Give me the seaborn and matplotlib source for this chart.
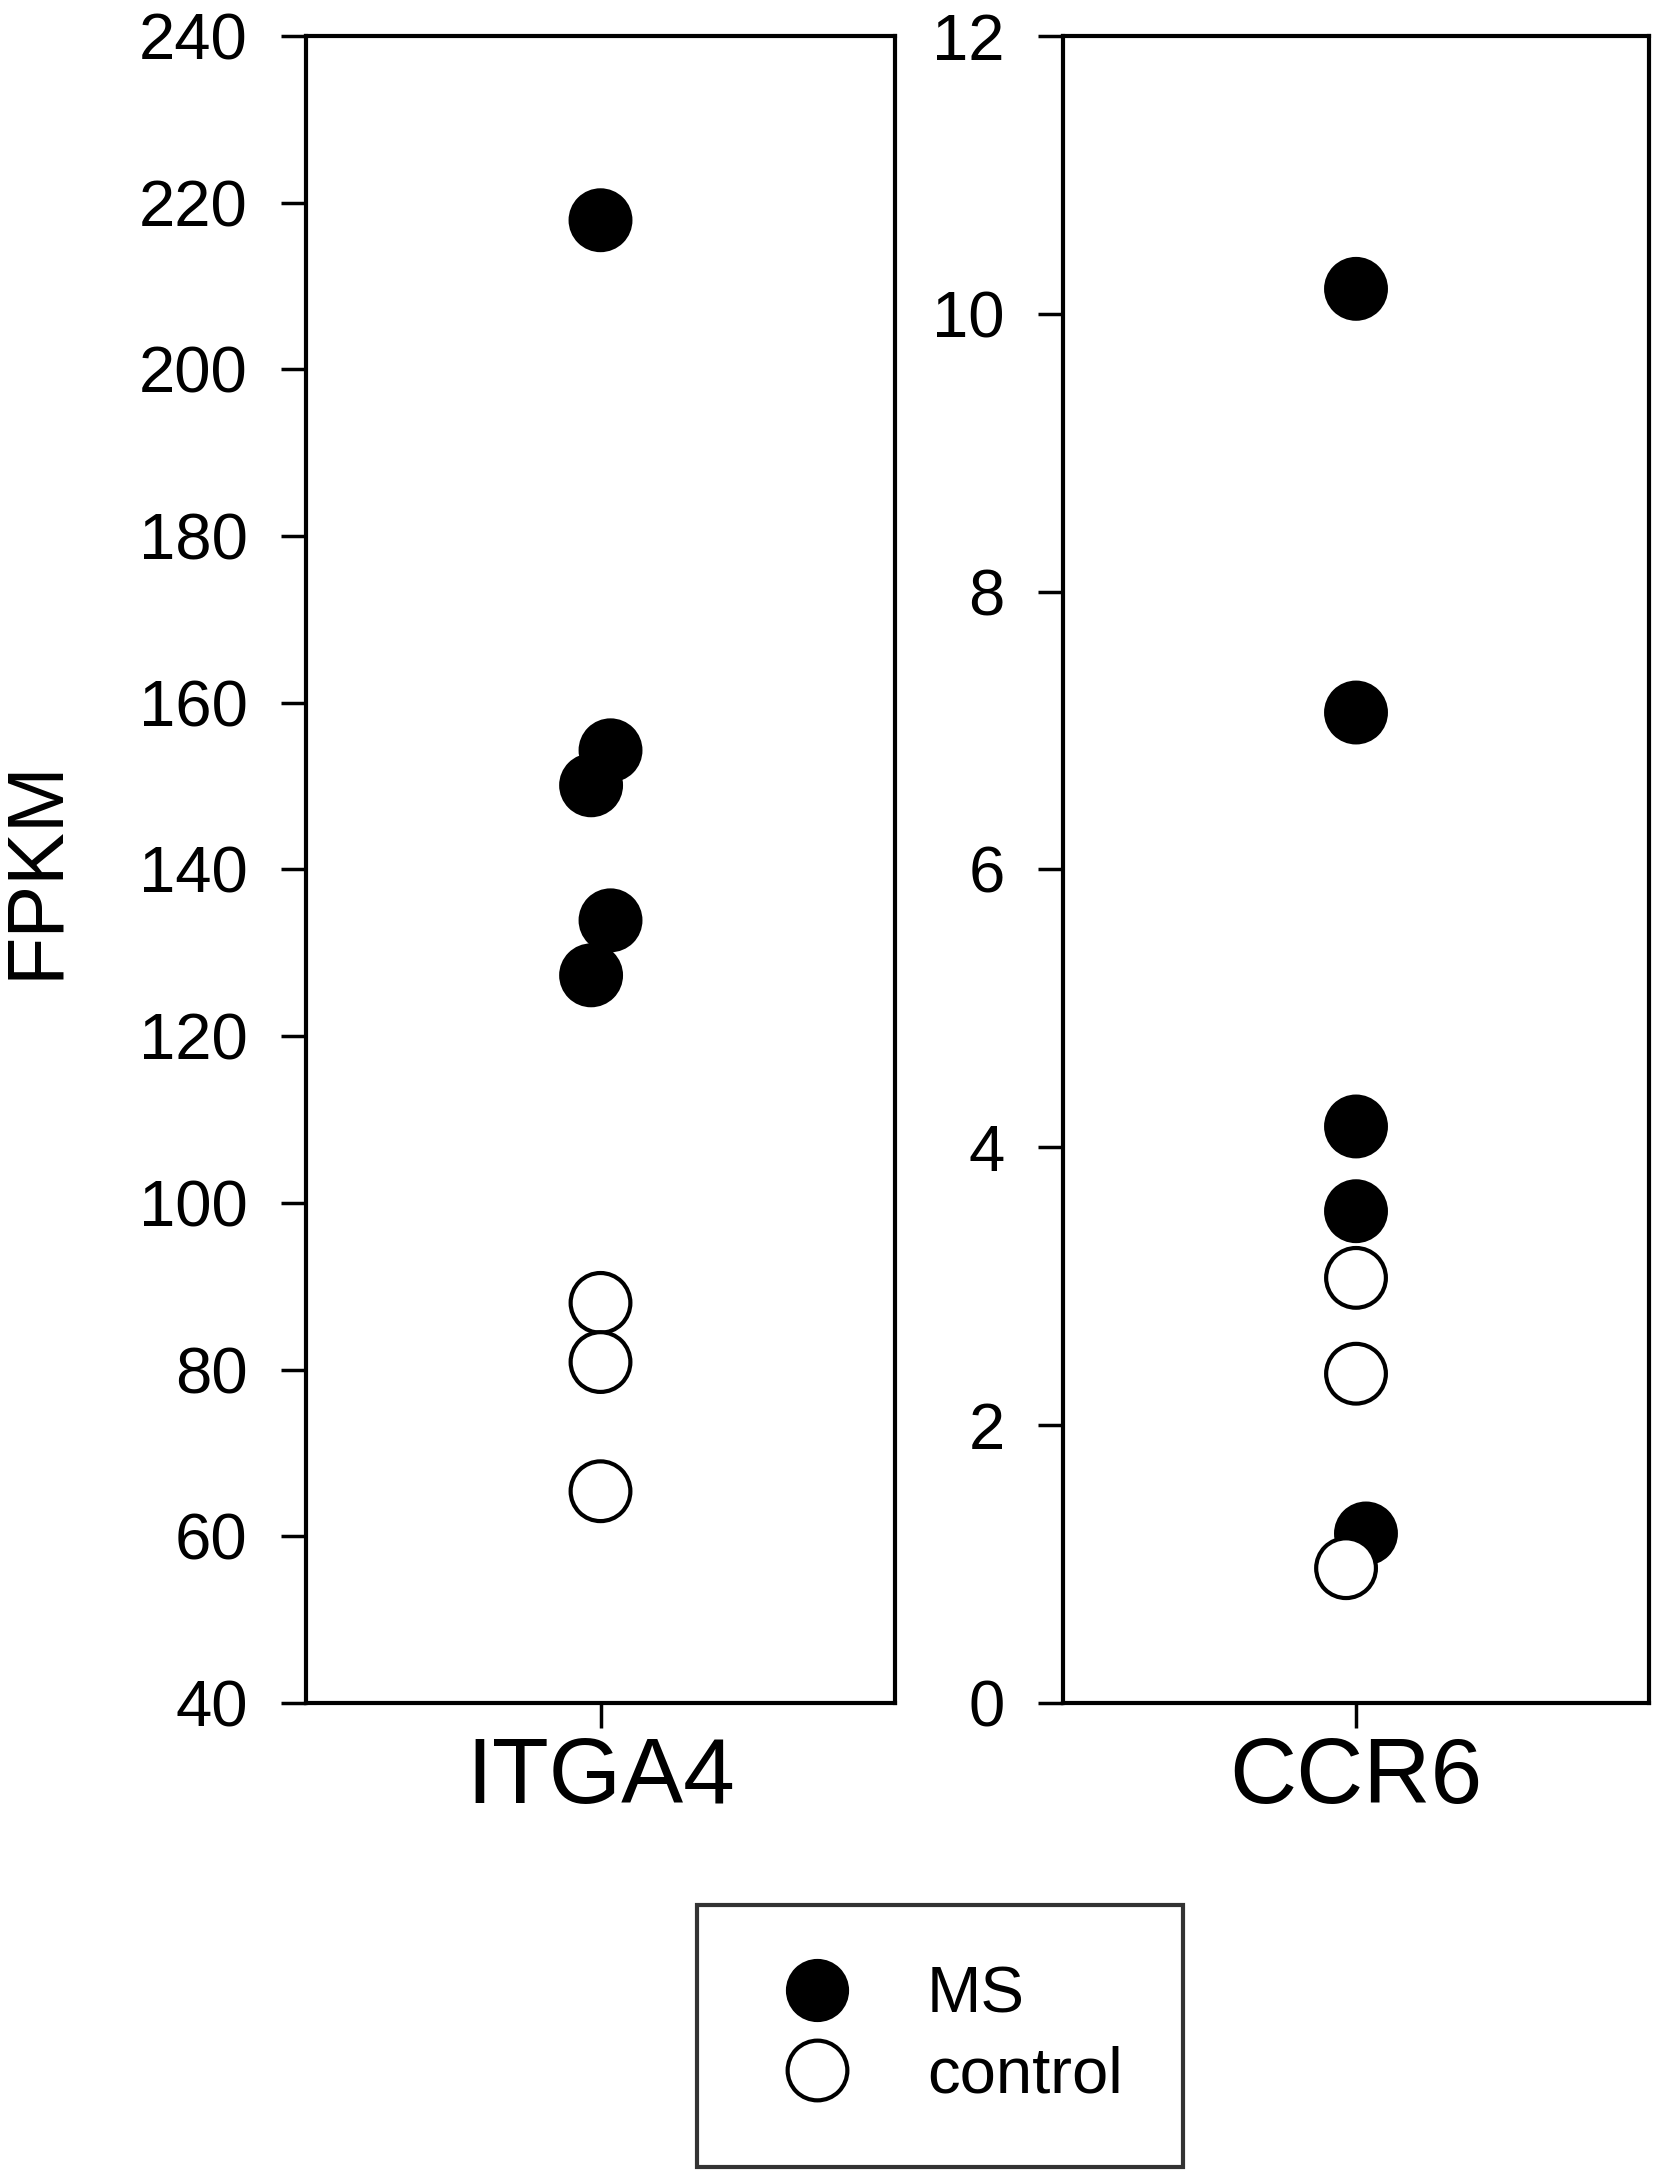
import matplotlib
matplotlib.use("Agg")
import matplotlib.pyplot as plt
from matplotlib.lines import Line2D
import seaborn as sns
import pandas as pd

# values (FPKM per sample)
genes = ["ITGA4", "CCR6"]
groups = ["MS", "control"]

itga4_ms = [217.9, 154.3, 150.1, 133.9, 127.3]
itga4_ms_jitter = [0.0, 0.017, -0.016, 0.017, -0.016]
itga4_control = [88.0, 80.9, 65.4]
itga4_control_jitter = [0.0, 0.0, 0.0]

ccr6_ms = [10.18, 7.13, 4.15, 3.54, 1.22]
ccr6_ms_jitter = [0.0, 0.0, 0.0, 0.0, 0.017]
ccr6_control = [3.06, 2.37, 0.97]
ccr6_control_jitter = [0.0, 0.0, -0.017]

itga4_ticks = [40, 60, 80, 100, 120, 140, 160, 180, 200, 220, 240]
ccr6_ticks = [0, 2, 4, 6, 8, 10, 12]


def make_frame(ms, ms_jit, ctrl, ctrl_jit):
    rows = []
    for v, j in zip(ms, ms_jit):
        rows.append({"group": "MS", "value": v, "pos": j})
    for v, j in zip(ctrl, ctrl_jit):
        rows.append({"group": "control", "value": v, "pos": j})
    return pd.DataFrame(rows)


frames = {
    "ITGA4": make_frame(itga4_ms, itga4_ms_jitter, itga4_control, itga4_control_jitter),
    "CCR6": make_frame(ccr6_ms, ccr6_ms_jitter, ccr6_control, ccr6_control_jitter),
}
yticks = {"ITGA4": itga4_ticks, "CCR6": ccr6_ticks}

sns.set_theme(style="ticks")
plt.rcParams["font.family"] = ["Liberation Sans", "DejaVu Sans"]
plt.rcParams["text.color"] = "black"
plt.rcParams["axes.labelcolor"] = "black"
plt.rcParams["xtick.color"] = "black"
plt.rcParams["ytick.color"] = "black"

fig = plt.figure(figsize=(16.63, 21.71), dpi=100)
ax_left = fig.add_axes([0.184, 0.2156, 0.3542, 0.7678])
ax_right = fig.add_axes([0.6392, 0.2156, 0.3524, 0.7678])

palette = {"MS": "black", "control": "white"}

for ax, gene in zip([ax_left, ax_right], genes):
    df = frames[gene]
    sns.scatterplot(data=df, x="pos", y="value", hue="group", palette=palette,
                    hue_order=groups, s=1850, edgecolor="black", linewidth=3,
                    legend=False, ax=ax, zorder=3)
    ticks = yticks[gene]
    ax.set_ylim(ticks[0], ticks[-1])
    ax.set_yticks(ticks)
    ax.set_xlim(-0.5, 0.5)
    ax.set_xticks([0])
    ax.set_xticklabels([gene])
    ax.set_xlabel("")
    ax.set_ylabel("")
    for sp in ax.spines.values():
        sp.set_visible(True)
        sp.set_linewidth(3.0)
        sp.set_color("black")
    ax.tick_params(axis="y", direction="out", length=18, width=2.5,
                   labelsize=47, pad=24, color="black", labelcolor="black")
    ax.tick_params(axis="x", direction="out", length=18, width=2.5,
                   labelsize=67, pad=6, color="black", labelcolor="black")

ax_left.set_ylabel("FPKM", fontsize=57, labelpad=47, color="black")

handles = [
    Line2D([], [], marker="o", ls="", markersize=43, markerfacecolor="black",
           markeredgecolor="black", markeredgewidth=2.5),
    Line2D([], [], marker="o", ls="", markersize=43, markerfacecolor="white",
           markeredgecolor="black", markeredgewidth=3),
]
leg = fig.legend(handles, groups, loc="upper left",
                 bbox_to_anchor=(697 / 1663, 1 - 1905 / 2171),
                 fontsize=47, frameon=True, fancybox=False, borderaxespad=0,
                 borderpad=0.93, handlelength=1.82, handletextpad=0.77,
                 labelspacing=0.31)
leg.get_frame().set_edgecolor("black")
leg.get_frame().set_linewidth(3.0)
for txt in leg.get_texts():
    txt.set_color("black")

fig.savefig("out.png", dpi=100, facecolor="white")
